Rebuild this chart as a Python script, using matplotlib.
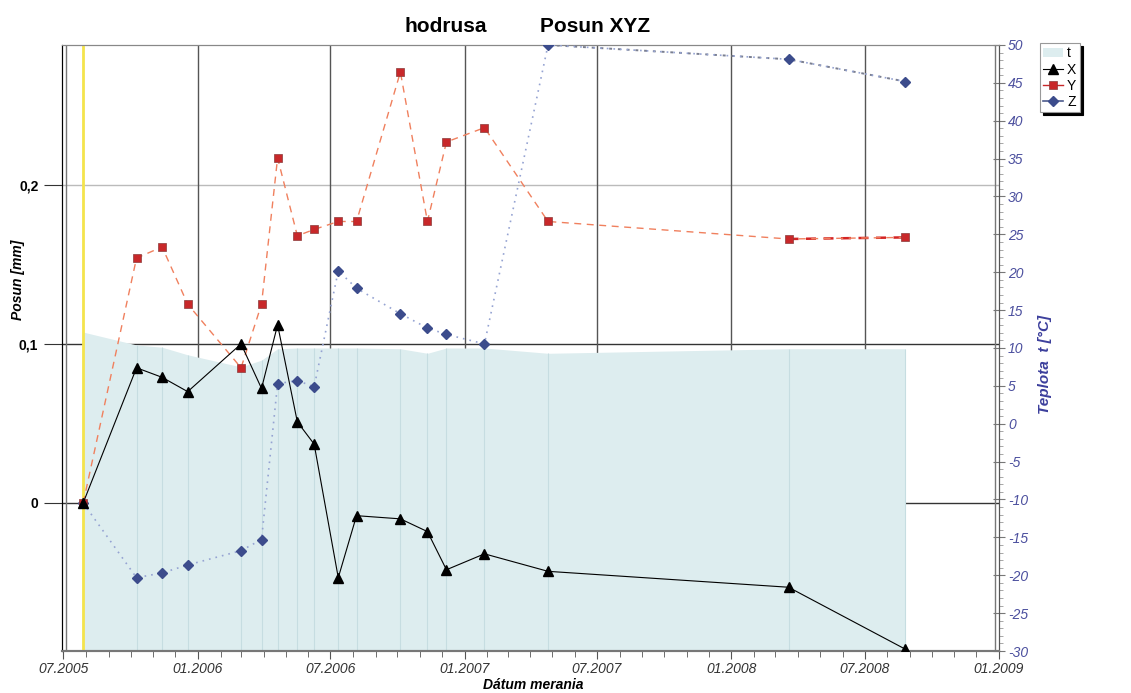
"""
hodrusa - Posun XYZ: displacement in three axes with temperature as a filled area.
"""

import datetime as dt
import matplotlib
matplotlib.use("Agg")
import matplotlib.pyplot as plt
import matplotlib.dates as mdates
from matplotlib.lines import Line2D
from matplotlib.patches import Patch
from matplotlib.ticker import FuncFormatter, MultipleLocator, FixedLocator

plt.rcParams['font.family'] = ['Liberation Sans', 'DejaVu Sans']
plt.rcParams['axes.unicode_minus'] = False

# ----- Data -----
dates = [
    "2005-07-28", "2005-10-09", "2005-11-13", "2005-12-18", "2006-03-01",
    "2006-03-29", "2006-04-20", "2006-05-17", "2006-06-09", "2006-07-12",
    "2006-08-06", "2006-10-05", "2006-11-11", "2006-12-07", "2007-01-28",
    "2007-04-25", "2008-03-19", "2008-08-26",
]
pos_x = [0.0, 0.085, 0.079, 0.070, 0.100, 0.072, 0.112, 0.051, 0.037, -0.047,
         -0.008, -0.010, -0.018, -0.042, -0.032, -0.043, -0.053, -0.092]
pos_y = [0.0, 0.154, 0.161, 0.125, 0.085, 0.125, 0.217, 0.168, 0.172, 0.177,
         0.177, 0.271, 0.177, 0.227, 0.236, 0.177, 0.166, 0.167]
pos_z = [0.0, -0.047, -0.044, -0.039, -0.030, -0.023, 0.075, 0.077, 0.073, 0.146,
         0.135, 0.119, 0.110, 0.106, 0.100, 0.288, 0.279, 0.265]
temp = [12.1, 10.4, 10.1, 9.1, 7.5, 8.4, 9.9, 10.0, 10.0, 10.0,
        10.0, 9.9, 9.3, 10.0, 10.0, 9.3, 9.9, 9.9]

left_ticks = [0, 0.1, 0.2]
x_range = ("2005-06-29", "2009-01-01")
y_range = (-0.0931, 0.288)
t_range = (-30, 50)


def fmt_comma(v, pos):
    return "0" if abs(v) < 1e-9 else f"{v:.1f}".replace(".", ",")


def main():
    d = [dt.datetime.strptime(s, "%Y-%m-%d") for s in dates]
    xr = [dt.datetime.strptime(s, "%Y-%m-%d") for s in x_range]
    rect = [0.0548, 0.0606, 0.8285, 0.8745]

    fig = plt.figure(figsize=(11.31, 6.93), dpi=100)

    # background axes: grid only, sits under the temperature area
    ax_bg = fig.add_axes(rect, zorder=0)
    ax_bg.set_xlim(xr[0], xr[1])
    ax_bg.set_ylim(*y_range)
    ax_bg.axis('off')

    ax = fig.add_axes(rect, zorder=2)
    ax.patch.set_visible(False)
    ax_t = ax.twinx()
    ax_t.set_zorder(1)
    ax_t.patch.set_visible(False)

    ax.set_xlim(xr[0], xr[1])
    ax.set_ylim(*y_range)
    ax_t.set_ylim(*t_range)

    ax.xaxis.set_major_locator(mdates.MonthLocator(bymonth=[1, 7]))
    ax.xaxis.set_minor_locator(mdates.MonthLocator())
    ax.xaxis.set_major_formatter(mdates.DateFormatter('%m.%Y'))

    grid_col = {0: '#333333', 0.1: '#333333', 0.2: '#bbbbbb'}
    for v in left_ticks:
        ax_bg.axhline(v, color=grid_col[v], lw=1)
    for loc in ax.xaxis.get_majorticklocs()[1:-1]:
        ax_bg.axvline(loc, color='#555555', lw=1)

    # temperature area
    ax_t.fill_between(d, t_range[0], temp, color='#ddedef', lw=0, zorder=1)
    ax_t.vlines(d, t_range[0], temp, color='#c6dde1', lw=0.8, zorder=1.5)

    # yellow marker of the reference measurement
    ax.axvline(d[0], color='#f4e44c', lw=2, zorder=2)

    lx, = ax.plot(d, pos_x, color='black', lw=0.8, marker='^', ms=6.5,
                  mfc='black', mec='black', label='X', zorder=5)
    ly, = ax.plot(d, pos_y, color='#f0805e', lw=1, ls=(0, (5, 4)), marker='s', ms=6,
                  mfc='#c8282a', mec='#8a3a3a', mew=0.5, label='Y', zorder=4)
    ax.plot(d[-2:], pos_y[-2:], color='#d42424', lw=1.8, ls=(0, (4, 3)), zorder=3.9)
    lz, = ax.plot(d, pos_z, color='#95a3d2', lw=1.2, ls=(0, (1, 3)), marker='D', ms=5,
                  mfc='#3c4c8c', mec='#3c4c8c', label='Z', zorder=3)
    ax.plot(d[-3:], pos_z[-3:], color='#7a7f90', lw=1.4, ls=(0, (1.5, 3)), zorder=2.9)

    # x axis
    ax.tick_params(axis='x', which='major', length=6, color='#555555', labelsize=10,
                   labelcolor='#333333', pad=2)
    ax.tick_params(axis='x', which='minor', length=4, color='#555555')
    for lab in ax.get_xticklabels():
        lab.set_fontstyle('italic')
    fig.text(533 / 1131, 1 - 685 / 693, 'Dátum merania', ha='center', va='center',
             fontsize=10, fontweight='bold', fontstyle='italic')

    # left axis
    ax.yaxis.set_major_locator(FixedLocator(left_ticks))
    ax.yaxis.set_major_formatter(FuncFormatter(fmt_comma))
    ax.tick_params(axis='y', length=13, color='#333333', labelsize=10, pad=4)
    for lab in ax.get_yticklabels():
        lab.set_fontweight('bold')
    fig.text(18 / 1131, 1 - 280 / 693, 'Posun [mm]', rotation=90, ha='center', va='center',
             fontsize=10, fontweight='bold', fontstyle='italic')

    # right axis
    blue = '#4b4f9e'
    ax_t.yaxis.set_major_locator(MultipleLocator(5))
    ax_t.yaxis.set_minor_locator(MultipleLocator(1))
    ax_t.tick_params(axis='y', which='major', direction='inout', length=9, color='#777777',
                     labelsize=10, labelcolor=blue, pad=2)
    ax_t.tick_params(axis='y', which='minor', direction='out', length=3, color='#999999')
    for lab in ax_t.get_yticklabels():
        lab.set_fontstyle('italic')
    fig.text(1045 / 1131, 1 - 364 / 693, 'Teplota  t [°C]', rotation=90, ha='center',
             va='center', fontsize=11, fontweight='bold', fontstyle='italic', color='#3c3f9c')

    # frame
    for a in (ax, ax_t):
        a.spines['top'].set_color('#888888')
        a.spines['bottom'].set_color('#777777')
        a.spines['bottom'].set_linewidth(1.5)
        a.spines['right'].set_color('#555555')
    ax.spines['left'].set_color('black')
    ax.add_line(Line2D([0.004, 0.004], [0, 1], transform=ax.transAxes, color='#777777', lw=1))
    ax.add_line(Line2D([0.996, 0.996], [0, 1], transform=ax.transAxes, color='#777777', lw=1))

    # titles
    fig.text(446 / 1131, 1 - 26 / 693, 'hodrusa', ha='center', va='center',
             fontsize=15, fontweight='bold')
    fig.text(595 / 1131, 1 - 26 / 693, 'Posun XYZ', ha='center', va='center',
             fontsize=15, fontweight='bold')

    # legend
    t_patch = Patch(facecolor='#ddedef', edgecolor='none', label='t')
    leg = fig.legend([t_patch, lx, ly, lz], ['t', 'X', 'Y', 'Z'], loc='upper left',
                     bbox_to_anchor=(1040 / 1131, 1 - 43 / 693), borderaxespad=0,
                     fontsize=10, fancybox=False, borderpad=0.25, labelspacing=0.15,
                     handlelength=1.4, handletextpad=0.3,
                     shadow={'color': 'black', 'alpha': 1})
    leg.get_frame().set_edgecolor('#999999')
    leg.get_frame().set_linewidth(0.8)
    for h in leg.legend_handles[1:]:
        h.set_linestyle('-')
    leg.legend_handles[2].set_color('#c8282a')
    leg.legend_handles[3].set_color('#4c5a8c')

    fig.savefig('out.png', dpi=100)


if __name__ == "__main__":
    main()
